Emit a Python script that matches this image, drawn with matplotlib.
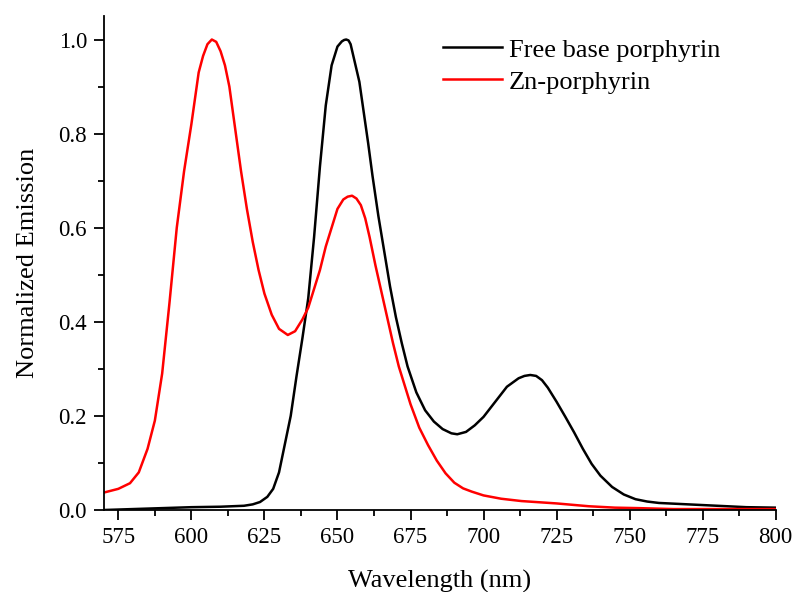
import numpy as np
import matplotlib
matplotlib.use("Agg")
import matplotlib.pyplot as plt
from matplotlib.ticker import MultipleLocator, FormatStrFormatter

plt.rcParams['font.family'] = ['Liberation Serif', 'DejaVu Serif']

# =============================
# DATA
# =============================
wl_free = [570, 580, 590, 600, 610, 618, 621, 623.5, 626, 628, 630, 632, 634, 636,
           638, 640, 642, 644, 646, 648, 650, 651.5, 652.3, 653, 653.8, 654.5, 656,
           657.5, 659, 660.5, 662, 664, 666, 668, 670, 672, 674, 677, 680, 683, 686,
           689, 691, 694, 697, 700, 704, 708, 712, 714, 716, 718, 720, 722, 725, 728,
           731, 734, 737, 740, 744, 748, 752, 756, 760, 770, 780, 790, 800]
em_free = [0.000, 0.002, 0.004, 0.006, 0.007, 0.009, 0.012, 0.017, 0.028, 0.045,
           0.080, 0.140, 0.200, 0.285, 0.365, 0.450, 0.580, 0.730, 0.860, 0.945,
           0.985, 0.996, 0.999, 1.000, 0.998, 0.990, 0.950, 0.910, 0.845, 0.780,
           0.710, 0.625, 0.550, 0.475, 0.410, 0.355, 0.305, 0.250, 0.212, 0.188,
           0.172, 0.163, 0.161, 0.166, 0.180, 0.198, 0.230, 0.262, 0.280, 0.285,
           0.287, 0.285, 0.276, 0.260, 0.230, 0.198, 0.165, 0.130, 0.098, 0.073,
           0.049, 0.033, 0.023, 0.018, 0.015, 0.012, 0.009, 0.006, 0.005]

wl_zn = [570, 575, 579, 582, 585, 587.5, 590, 592.5, 595, 597.5, 600, 602.5, 604,
         605.5, 607, 608.5, 610, 611.5, 613, 615, 617, 619, 621, 623, 625, 627.5,
         630, 633, 635.5, 638, 640, 642, 644, 646, 648, 650, 652, 653.5, 655, 656.5,
         658, 659.5, 661, 663, 665, 667, 669, 671, 673, 675, 678, 681, 684, 687, 690,
         693, 696, 700, 706, 713, 725, 736, 745, 753, 765, 780, 800]
em_zn = [0.037, 0.045, 0.057, 0.080, 0.130, 0.190, 0.290, 0.440, 0.600, 0.720,
         0.820, 0.930, 0.965, 0.990, 1.000, 0.995, 0.975, 0.945, 0.900, 0.810,
         0.720, 0.640, 0.570, 0.510, 0.460, 0.415, 0.385, 0.372, 0.380, 0.405,
         0.430, 0.470, 0.510, 0.560, 0.600, 0.640, 0.660, 0.666, 0.668, 0.662,
         0.648, 0.620, 0.580, 0.520, 0.465, 0.410, 0.355, 0.305, 0.265, 0.225,
         0.175, 0.138, 0.105, 0.078, 0.058, 0.046, 0.039, 0.031, 0.024, 0.019,
         0.014, 0.008, 0.005, 0.004, 0.002, 0.002, 0.002]

labels = ["Free base porphyrin", "Zn-porphyrin"]

# =============================
# PLOT
# =============================
fig = plt.figure(figsize=(7.93, 5.92), dpi=100)
ax = fig.add_axes([0.1308, 0.1385, 0.8474, 0.8345])

ax.plot(wl_free, em_free, color="black", lw=1.8, label=labels[0])
ax.plot(wl_zn, em_zn, color="#ff0000", lw=1.8, label=labels[1])

ax.set_xlim(570, 800)
ax.set_ylim(0, 1.05)
ax.set_xticks(np.arange(575, 801, 25))
ax.xaxis.set_minor_locator(MultipleLocator(12.5))
ax.yaxis.set_major_locator(MultipleLocator(0.2))
ax.yaxis.set_minor_locator(MultipleLocator(0.1))
ax.yaxis.set_major_formatter(FormatStrFormatter("%.1f"))

for s in ["top", "right"]:
    ax.spines[s].set_visible(False)
for s in ["left", "bottom"]:
    ax.spines[s].set_linewidth(1.3)

ax.tick_params(which="major", direction="out", length=7, width=1.3, labelsize=16.5, pad=5)
ax.tick_params(which="minor", direction="out", length=4, width=1.3)

ax.set_xlabel("Wavelength (nm)", fontsize=19, labelpad=16)
ax.set_ylabel("Normalized Emission", fontsize=19, labelpad=14)

ax.legend(loc="upper left", bbox_to_anchor=(0.505, 0.955), frameon=False,
          fontsize=19, handlelength=2.25, handletextpad=0.25, labelspacing=0.32,
          borderpad=0, borderaxespad=0)

plt.savefig("out.png", dpi=100)
